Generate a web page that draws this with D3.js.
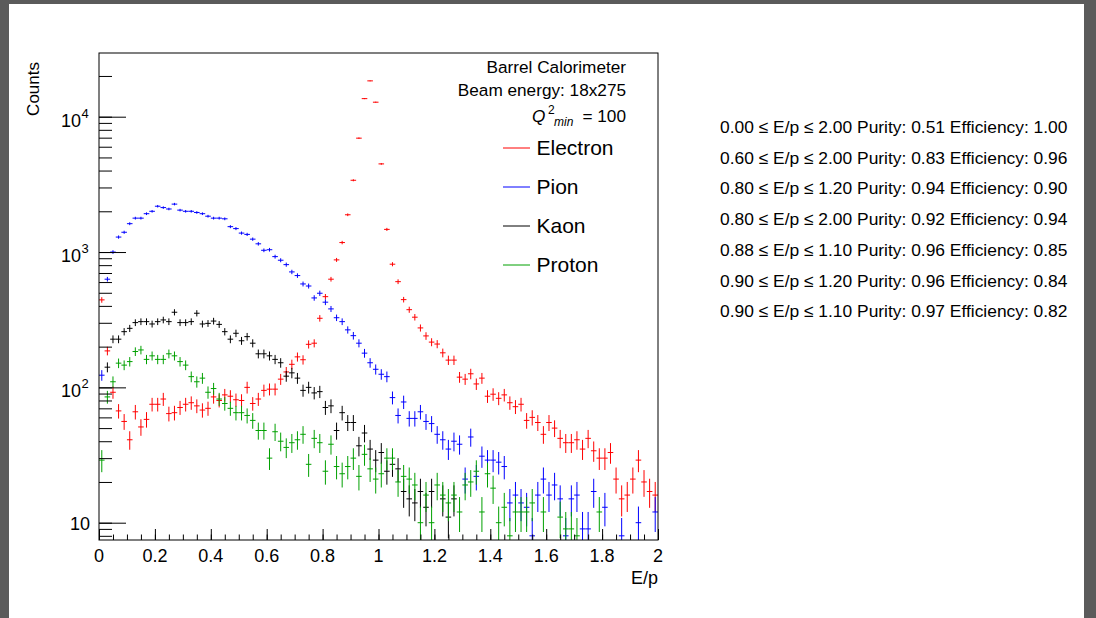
<!DOCTYPE html>
<html>
<head>
<meta charset="utf-8">
<title>E/p</title>
<script src="https://d3js.org/d3.v7.min.js"></script>
<style>
  body { margin: 0; background: #5b5b5b; }
  text { font-family: "Liberation Sans", Arial, sans-serif; fill: #000; }
</style>
</head>
<body>
<script>
// histogram binning: 100 bins of E/p between 0 and 2
const epMin = 0, epMax = 2, nBins = 100

// counts per bin (0 = empty / below the axis)
const electron = [443, 186, 92, 67, 56, 41, 66, 51, 58, 75, 75, 82, 64, 65, 71, 75, 77, 73, 68, 70,
  85, 80, 88, 86, 81, 80, 100, 76, 82, 95, 97, 97, 115, 130, 148, 168, 160, 208, 212, 324,
  468, 630, 875, 1175, 1885, 3390, 6940, 13600, 18400, 12800, 4480, 1470, 813, 604, 445, 375, 330, 275, 240, 216,
  209, 180, 159, 159, 119, 115, 126, 106, 117, 86, 89, 83, 88, 77, 72, 75, 57, 60, 55, 45,
  55, 50, 42, 39, 39, 41, 35, 42, 34, 30, 30, 33, 21, 15, 16, 21, 29, 20, 17, 16]
const pion = [123, 630, 1000, 1290, 1400, 1620, 1780, 1780, 1920, 2000, 2180, 2130, 2080, 2260, 2040, 2000, 2000, 1960, 1920, 1840,
  1780, 1780, 1760, 1540, 1490, 1380, 1350, 1245, 1150, 1030, 1040, 925, 870, 807, 713, 670, 581, 561, 458, 496,
  426, 380, 327, 306, 266, 241, 212, 179, 152, 136, 125, 120, 84, 62, 78, 59, 59, 66, 56, 54,
  45, 41, 35, 40, 38, 21, 43, 22, 31, 29, 29, 28, 26, 14, 16, 14, 13, 8, 16, 21,
  16, 19, 15, 8, 15, 16, 9, 9, 17, 0, 13, 0, 0, 8, 0, 0, 10, 0, 0, 12]
const kaon = [0, 141, 227, 227, 258, 273, 301, 306, 306, 294, 306, 315, 306, 359, 301, 301, 306, 353, 294, 297,
  309, 292, 258, 227, 251, 221, 237, 212, 177, 177, 171, 161, 152, 121, 128, 117, 95, 100, 91, 93,
  71, 73, 48, 65, 55, 55, 37, 46, 35, 29, 33, 24, 27, 25, 17, 15, 14, 17, 13, 17,
  0, 15, 11, 15, 0, 0, 0, 0, 0, 0, 0, 0, 0, 0, 0, 0, 0, 0, 0, 0,
  0, 0, 0, 0, 0, 0, 0, 0, 0, 0, 0, 0, 0, 0, 0, 0, 0, 0, 0, 0]
const proton = [29, 85, 110, 151, 146, 155, 184, 189, 161, 171, 161, 161, 177, 171, 155, 146, 120, 110, 117, 92,
  98, 82, 76, 70, 65, 65, 62, 57, 48, 48, 30, 47, 40, 36, 39, 41, 45, 27, 42, 39,
  24, 38, 26, 23, 26, 30, 22, 32, 25, 21, 23, 30, 30, 20, 22, 21, 19, 10, 16, 10,
  19, 16, 14, 16, 12, 19, 20, 24, 12, 23, 18, 10, 13, 8, 12, 12, 12, 14, 0, 12,
  0, 0, 11, 9, 9, 8, 0, 0, 0, 12, 0, 0, 0, 0, 0, 0, 0, 0, 0, 0]

const speciesNames = ['Electron', 'Pion', 'Kaon', 'Proton']
const speciesColors = ['#ff0000', '#0000ff', '#000000', '#00a000']
const speciesCounts = [electron, pion, kaon, proton]

// E/p cut summary printed to the right
const cutLow = [0.00, 0.60, 0.80, 0.80, 0.88, 0.90, 0.90]
const cutHigh = [2.00, 2.00, 1.20, 2.00, 1.10, 1.20, 1.10]
const purity = [0.51, 0.83, 0.94, 0.92, 0.96, 0.96, 0.97]
const efficiency = [1.00, 0.96, 0.90, 0.94, 0.85, 0.84, 0.82]

const headerLines = ['Barrel Calorimeter', 'Beam energy: 18x275']
const xLabels = ['0', '0.2', '0.4', '0.6', '0.8', '1', '1.2', '1.4', '1.6', '1.8', '2']
const yDecades = [10, 100, 1000, 10000]
const yExponents = ['', '2', '3', '4']

const W = 1096, H = 618
const frame = { left: 99, right: 658, top: 53, bottom: 540 }

const svg = d3.select('body').append('svg')
  .attr('width', W)
  .attr('height', H)

svg.append('rect').attr('width', W).attr('height', H).attr('fill', '#5b5b5b')
svg.append('rect')
  .attr('x', 9).attr('y', 4)
  .attr('width', 1075).attr('height', H - 4)
  .attr('fill', '#ffffff')

const x = d3.scaleLinear().domain([epMin, epMax]).range([frame.left, frame.right])
const y = d3.scaleLog().domain([7.45, 29560]).range([frame.bottom, frame.top])

svg.append('clipPath').attr('id', 'frameClip')
  .append('rect')
  .attr('x', frame.left).attr('y', frame.top)
  .attr('width', frame.right - frame.left).attr('height', frame.bottom - frame.top)

// histograms with stat errors
const binW = (epMax - epMin) / nBins
const plot = svg.append('g').attr('clip-path', 'url(#frameClip)')

speciesCounts.forEach(function(counts, s) {
  const bins = counts.map((c, i) => ({ i: i, c: c })).filter(d => d.c > 0)
  const g = plot.append('g')
    .attr('stroke', speciesColors[s])
    .attr('stroke-width', 1)

  g.selectAll('line.h')
    .data(bins)
    .enter().append('line')
    .attr('class', 'h')
    .attr('x1', d => x(epMin + d.i * binW))
    .attr('x2', d => x(epMin + (d.i + 1) * binW))
    .attr('y1', d => y(d.c))
    .attr('y2', d => y(d.c))

  g.selectAll('line.v')
    .data(bins)
    .enter().append('line')
    .attr('class', 'v')
    .attr('x1', d => x(epMin + (d.i + 0.5) * binW))
    .attr('x2', d => x(epMin + (d.i + 0.5) * binW))
    .attr('y1', d => y(Math.max(d.c - Math.sqrt(d.c), 1)))
    .attr('y2', d => y(d.c + Math.sqrt(d.c)))
})

// frame
svg.append('rect')
  .attr('x', frame.left).attr('y', frame.top)
  .attr('width', frame.right - frame.left).attr('height', frame.bottom - frame.top)
  .attr('fill', 'none')
  .attr('stroke', '#000')
  .attr('stroke-width', 1)

// x axis ticks (pointing into the frame)
const xMinorAxis = d3.axisBottom(x).tickValues(x.ticks(40)).tickSizeInner(-5.5).tickSizeOuter(0).tickFormat('')
const xMajorAxis = d3.axisBottom(x).tickValues(x.ticks(10)).tickSizeInner(-11).tickSizeOuter(0).tickFormat('')
svg.append('g').attr('transform', 'translate(0,' + frame.bottom + ')').call(xMinorAxis)
svg.append('g').attr('transform', 'translate(0,' + frame.bottom + ')').call(xMajorAxis)

// y axis ticks
const yAll = y.ticks()
const yMinorAxis = d3.axisLeft(y).tickValues(yAll).tickSizeInner(-13).tickSizeOuter(0).tickFormat('')
const yMajorAxis = d3.axisLeft(y).tickValues(yDecades).tickSizeInner(-27).tickSizeOuter(0).tickFormat('')
svg.append('g').attr('transform', 'translate(' + frame.left + ',0)').call(yMinorAxis)
svg.append('g').attr('transform', 'translate(' + frame.left + ',0)').call(yMajorAxis)
svg.selectAll('.domain').remove()
svg.selectAll('.tick line').attr('stroke', '#000')

// x tick labels
svg.append('g').selectAll('text')
  .data(x.ticks(10))
  .enter().append('text')
  .attr('x', d => x(d))
  .attr('y', 562)
  .attr('text-anchor', 'middle')
  .attr('font-size', 18)
  .text((d, i) => xLabels[i])

// y tick labels: 10, 10^2, 10^3, 10^4
yDecades.forEach(function(v, i) {
  const t = svg.append('text')
    .attr('text-anchor', 'end')
    .attr('font-size', 18)
  if (yExponents[i] === '') {
    t.attr('x', 90).attr('y', y(v) + 7).text('10')
  } else {
    t.attr('x', 81).attr('y', y(v) + 10).text('10')
    svg.append('text')
      .attr('x', 81.5).attr('y', y(v) + 1)
      .attr('font-size', 13)
      .text(yExponents[i])
  }
})

// axis titles
svg.append('text')
  .attr('x', frame.right).attr('y', 584)
  .attr('text-anchor', 'end')
  .attr('font-size', 18)
  .text('E/p')

svg.append('text')
  .attr('transform', 'translate(39,62) rotate(-90)')
  .attr('text-anchor', 'end')
  .attr('font-size', 17)
  .text('Counts')

// legend header
headerLines.forEach(function(line, i) {
  svg.append('text')
    .attr('x', 626).attr('y', 72.5 + i * 23.5)
    .attr('text-anchor', 'end')
    .attr('font-size', 17.2)
    .text(line)
})
svg.append('text')
  .attr('x', 626).attr('y', 121.5)
  .attr('text-anchor', 'end')
  .attr('font-size', 17.2)
  .text('= 100')
svg.append('text')
  .attr('x', 554).attr('y', 126)
  .attr('font-size', 12)
  .attr('font-style', 'italic')
  .text('min')
svg.append('text')
  .attr('x', 548).attr('y', 114)
  .attr('font-size', 12)
  .text('2')
svg.append('text')
  .attr('x', 532).attr('y', 121.5)
  .attr('font-size', 17.2)
  .attr('font-style', 'italic')
  .text('Q')

// legend entries
const entries = speciesNames.map((n, i) => ({ name: n, color: speciesColors[i], row: i }))
const legend = svg.append('g').selectAll('g')
  .data(entries)
  .enter().append('g')
  .attr('transform', d => 'translate(0,' + Math.round(148 + d.row * 38.9) + ')')
legend.append('line')
  .attr('x1', 503).attr('x2', 530)
  .attr('y1', 0).attr('y2', 0)
  .style('stroke', d => d.color)
  .attr('stroke-width', 1)
legend.append('text')
  .attr('x', 536.5).attr('y', 7)
  .attr('font-size', 21)
  .text(d => d.name)

// cut summary
svg.append('g').selectAll('text')
  .data(cutLow)
  .enter().append('text')
  .attr('x', 720)
  .attr('y', (d, i) => 133 + i * 30.7)
  .attr('font-size', 17.4)
  .text((d, i) => cutLow[i].toFixed(2) + ' \u2264 E/p \u2264 ' + cutHigh[i].toFixed(2) +
    ' Purity: ' + purity[i].toFixed(2) + ' Efficiency: ' + efficiency[i].toFixed(2))
</script>
</body>
</html>
